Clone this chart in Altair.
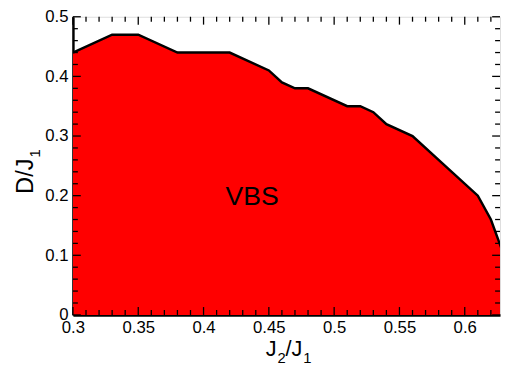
import altair as alt
import pandas as pd

# Phase boundary (J2/J1, D/J1)
j2 = [0.30, 0.33, 0.35, 0.38, 0.42, 0.45, 0.46, 0.47, 0.48, 0.51, 0.52, 0.53, 0.54, 0.56, 0.61, 0.62, 0.63]
d = [0.44, 0.47, 0.47, 0.44, 0.44, 0.41, 0.39, 0.38, 0.38, 0.35, 0.35, 0.34, 0.32, 0.30, 0.20, 0.16, 0.10]

x_major = [0.3, 0.35, 0.4, 0.45, 0.5, 0.55, 0.6]
x_minor = [0.31, 0.32, 0.33, 0.34, 0.36, 0.37, 0.38, 0.39, 0.41, 0.42, 0.43, 0.44,
           0.46, 0.47, 0.48, 0.49, 0.51, 0.52, 0.53, 0.54, 0.56, 0.57, 0.58, 0.59,
           0.61, 0.62]
y_major = [0.0, 0.1, 0.2, 0.3, 0.4, 0.5]
y_minor = [0.02, 0.04, 0.06, 0.08, 0.12, 0.14, 0.16, 0.18, 0.22, 0.24, 0.26, 0.28,
           0.32, 0.34, 0.36, 0.38, 0.42, 0.44, 0.46, 0.48]

W, H = 434, 303
FONT = "Liberation Sans"

df = pd.DataFrame({"j2": j2, "d": d})
xs = alt.Scale(domain=[0.3, 0.627], nice=False, zero=False)
ys = alt.Scale(domain=[0, 0.5], nice=False, zero=False)

X = alt.X("j2:Q", scale=xs,
          axis=alt.Axis(values=x_major, format=".2~f", ticks=False, grid=False, title=None,
                        labelFont=FONT, labelFontSize=17, labelColor="black", labelPadding=5,
                        domainColor="black", domainWidth=2.5, labelFlush=False))
Y = alt.Y("d:Q", scale=ys,
          axis=alt.Axis(values=y_major, format=".1~f", ticks=False, grid=False, title=None,
                        labelFont=FONT, labelFontSize=17, labelColor="black", labelPadding=5,
                        domainColor="black", domainWidth=2.5, labelFlush=False))

area = alt.Chart(df).mark_area(color="#ff0000", clip=True, opacity=1).encode(x=X, y=Y)
line = alt.Chart(df).mark_line(color="black", strokeWidth=2.5, clip=True).encode(
    x=alt.X("j2:Q", scale=xs), y=alt.Y("d:Q", scale=ys))

def xticks(vals, length):
    dfx = pd.DataFrame({"v": vals})
    b = alt.Chart(dfx).mark_rule(color="black", strokeWidth=1.3).encode(
        x=alt.X("v:Q", scale=xs), y=alt.value(H), y2=alt.value(H - length))
    t = alt.Chart(dfx).mark_rule(color="black", strokeWidth=1.3).encode(
        x=alt.X("v:Q", scale=xs), y=alt.value(0), y2=alt.value(length))
    return b + t

def yticks(vals, length):
    dfy = pd.DataFrame({"v": vals})
    l = alt.Chart(dfy).mark_rule(color="black", strokeWidth=1.3).encode(
        y=alt.Y("v:Q", scale=ys), x=alt.value(0), x2=alt.value(length))
    r = alt.Chart(dfy).mark_rule(color="black", strokeWidth=1.3).encode(
        y=alt.Y("v:Q", scale=ys), x=alt.value(W), x2=alt.value(W - length))
    return l + r

one = pd.DataFrame({"a": [0]})

def txt(s, x, y, size, angle=0, align="left", baseline="alphabetic"):
    kw = dict(font=FONT, fontSize=size, color="black", align=align, baseline=baseline)
    if angle:
        kw["angle"] = angle
    return alt.Chart(one).mark_text(**kw).encode(
        text=alt.value(s), x=alt.value(x), y=alt.value(y))

titles = (
    txt("J", 196, 345, 22) + txt("2", 208, 352, 15) + txt("/J", 216, 345, 22) + txt("1", 234, 352, 15)
    + txt("D/J", -41, 180, 24, angle=270) + txt("1", -33, 143, 15, angle=270)
    + txt("VBS", 182, 183, 27, align="center", baseline="middle")
)

chart = alt.layer(
    area, line,
    xticks(x_major, 8), xticks(x_minor, 5),
    yticks(y_major, 8), yticks(y_minor, 5),
    titles,
).properties(
    width=W, height=H,
    autosize=alt.AutoSizeParams(type="none"),
    padding={"left": 66, "top": 6, "right": 1, "bottom": 49},
).configure_view(stroke="black", strokeWidth=2).configure(background="white")

chart.save("out.html", embed_options={"renderer": "svg", "actions": False})
